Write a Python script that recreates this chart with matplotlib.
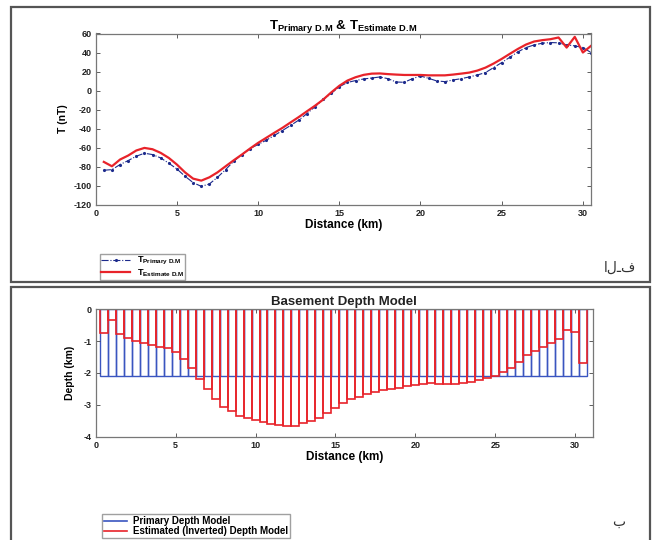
import matplotlib
matplotlib.use("Agg")
import matplotlib.pyplot as plt
from matplotlib.patches import Rectangle
import numpy as np

plt.rcParams['font.family'] = ['Liberation Sans', 'DejaVu Sans']
plt.rcParams['font.weight'] = 'bold'
plt.rcParams['axes.unicode_minus'] = False
plt.rcParams['mathtext.fontset'] = 'custom'
plt.rcParams['mathtext.rm'] = 'Liberation Sans:bold'
plt.rcParams['mathtext.bf'] = 'Liberation Sans:bold'
plt.rcParams['mathtext.it'] = 'Liberation Sans:bold'

# Distance along the profile (km)
distance = np.arange(1, 62) * 0.5

# Total-field anomaly of the primary depth model (nT)
t_primary = [-83.8, -83.1, -77.8, -73.6, -69.0, -65.9, -67.3, -70.8, -76.4, -82.4,
             -90.1, -96.8, -100.7, -98.2, -91.2, -83.1, -74.3, -67.3, -61.0, -56.7,
             -52.2, -47.2, -42.0, -36.7, -31.1, -24.4, -17.0, -9.3, -3.0, 4.0,
             8.5, 10.5, 12.2, 13.2, 14.3, 12.5, 9.0, 8.7, 12.5, 15.3,
             12.9, 10.1, 9.4, 11.1, 12.5, 14.3, 16.4, 18.9, 24.1, 29.4,
             35.0, 40.7, 45.2, 48.0, 49.8, 50.5, 50.2, 48.0, 47.0, 45.2, 40.0]

# Total-field anomaly of the estimated depth model (nT)
t_estimate = [-75.0, -79.6, -72.5, -68.3, -63.0, -60.3, -61.7, -65.5, -70.8, -77.8,
              -86.0, -92.6, -94.7, -91.2, -86.0, -79.6, -73.3, -67.3, -61.0, -55.0,
              -49.7, -44.4, -39.2, -33.5, -27.9, -21.9, -16.0, -9.6, -2.0, 5.0,
              10.5, 14.0, 16.5, 17.8, 18.0, 17.3, 16.8, 16.4, 16.4, 16.4,
              16.0, 16.0, 16.0, 16.8, 17.8, 18.9, 21.0, 24.1, 28.4, 33.3,
              38.6, 43.8, 48.4, 51.6, 53.0, 54.0, 55.8, 45.2, 56.5, 40.0, 47.0]

# Basement depth (km)
depth_primary = [-2.1] * 61
depth_estimate = [-0.75, -0.34, -0.76, -0.91, -0.98, -1.05, -1.11, -1.17, -1.22, -1.35,
                  -1.55, -1.83, -2.18, -2.51, -2.82, -3.06, -3.19, -3.34, -3.41, -3.48,
                  -3.53, -3.60, -3.64, -3.65, -3.65, -3.58, -3.50, -3.42, -3.27, -3.11,
                  -2.95, -2.83, -2.74, -2.67, -2.60, -2.54, -2.50, -2.46, -2.42, -2.38,
                  -2.34, -2.32, -2.34, -2.35, -2.33, -2.31, -2.27, -2.22, -2.15, -2.09,
                  -1.96, -1.83, -1.64, -1.43, -1.31, -1.19, -1.05, -0.93, -0.65, -0.70, -1.68]

W, H = 655, 540
fig = plt.figure(figsize=(W / 100, H / 100), dpi=100)

def fx(px):
    return px / W

def fy(py):
    return 1 - py / H

# panel frames
for (x0, y0, x1, y1) in [(11, 7.5, 650, 282), (11, 287, 650, 545)]:
    fig.patches.append(Rectangle((fx(x0), fy(y1)), fx(x1) - fx(x0), fy(y0) - fy(y1),
                                 transform=fig.transFigure, fill=False,
                                 edgecolor='#555555', linewidth=1.6))

red = '#e8232a'
navy = '#1c2a8c'
blue = '#3a55c0'

def style_axes(ax):
    ax.tick_params(direction='in', top=True, right=True, length=3, width=0.6,
                   labelsize=6.5, pad=3, color='#444444', labelcolor='#222222')
    for s in ax.spines.values():
        s.set_color('#777777')
        s.set_linewidth(0.9)

sub_p = r'$\mathregular{T_{Primary\ D.\!M}}$'
sub_e = r'$\mathregular{T_{Estimate\ D.\!M}}$'

# ---- magnetic anomaly profile ----
ax1 = fig.add_axes([fx(95.7), fy(204.7), fx(591) - fx(95.7), fy(33.5) - fy(204.7)])
l1, = ax1.plot(distance, t_primary, color=navy, linestyle='-.', linewidth=0.8,
               marker='.', markersize=2.5)
l2, = ax1.plot(distance, t_estimate, color=red, linewidth=1.6)
ax1.set_xlim(0, 30.5)
ax1.set_ylim(-120, 60)
ax1.set_xticks([0, 5, 10, 15, 20, 25, 30])
ax1.set_yticks(np.arange(-120, 61, 20))
style_axes(ax1)
ax1.set_xlabel('Distance (km)', fontsize=8.5, fontweight='bold', labelpad=1)
ax1.set_ylabel('T (nT)', fontsize=7.5, fontweight='bold', labelpad=4)
ax1.set_title(sub_p + ' & ' + sub_e, fontsize=9.5, fontweight='bold', pad=3)
fig.legend([l1, l2], [sub_p, sub_e],
           loc='lower left', bbox_to_anchor=(fx(100), fy(280)),
           prop={'weight': 'bold', 'size': 6.6},
           frameon=True, fancybox=False, edgecolor='#888888', borderpad=0.12,
           labelspacing=0.0, handlelength=3.2, handletextpad=0.7, borderaxespad=0)

# ---- basement depth model ----
ax2 = fig.add_axes([fx(95.7), fy(436.7), fx(592.7) - fx(95.7), fy(309.3) - fy(436.7)])
ax2.bar(distance, depth_primary, width=0.5, fill=False, edgecolor=blue, linewidth=1.0)
ax2.bar(distance, depth_estimate, width=0.5, fill=False, edgecolor=red, linewidth=1.2)
ax2.set_xlim(0, 31.1)
ax2.set_ylim(-4, 0)
ax2.set_xticks([0, 5, 10, 15, 20, 25, 30])
ax2.set_yticks([-4, -3, -2, -1, 0])
style_axes(ax2)
ax2.set_xlabel('Distance (km)', fontsize=8.5, fontweight='bold', labelpad=1)
ax2.set_ylabel('Depth (km)', fontsize=7.5, fontweight='bold', labelpad=6)
ax2.set_title('Basement Depth Model', fontsize=9.5, fontweight='bold', pad=3, color='#222222')
h1 = plt.Line2D([], [], color=blue, linewidth=1.2)
h2 = plt.Line2D([], [], color=red, linewidth=1.2)
fig.legend([h1, h2], ['Primary Depth Model', 'Estimated (Inverted) Depth Model'],
           loc='upper left', bbox_to_anchor=(fx(102), fy(514)),
           prop={'weight': 'bold', 'size': 7},
           frameon=True, fancybox=False, edgecolor='#888888', borderpad=0.2,
           labelspacing=0.05, handlelength=2.4, handletextpad=0.6, borderaxespad=0)

# panel letters
fig.text(fx(636), fy(268), 'الـف', fontsize=10, family=['DejaVu Sans'],
         fontweight='normal', ha='right', va='center', color='#333333')
fig.text(fx(625), fy(522), 'ب', fontsize=10, family=['DejaVu Sans'],
         fontweight='normal', ha='right', va='center', color='#333333')

fig.savefig('out.png', dpi=100)
